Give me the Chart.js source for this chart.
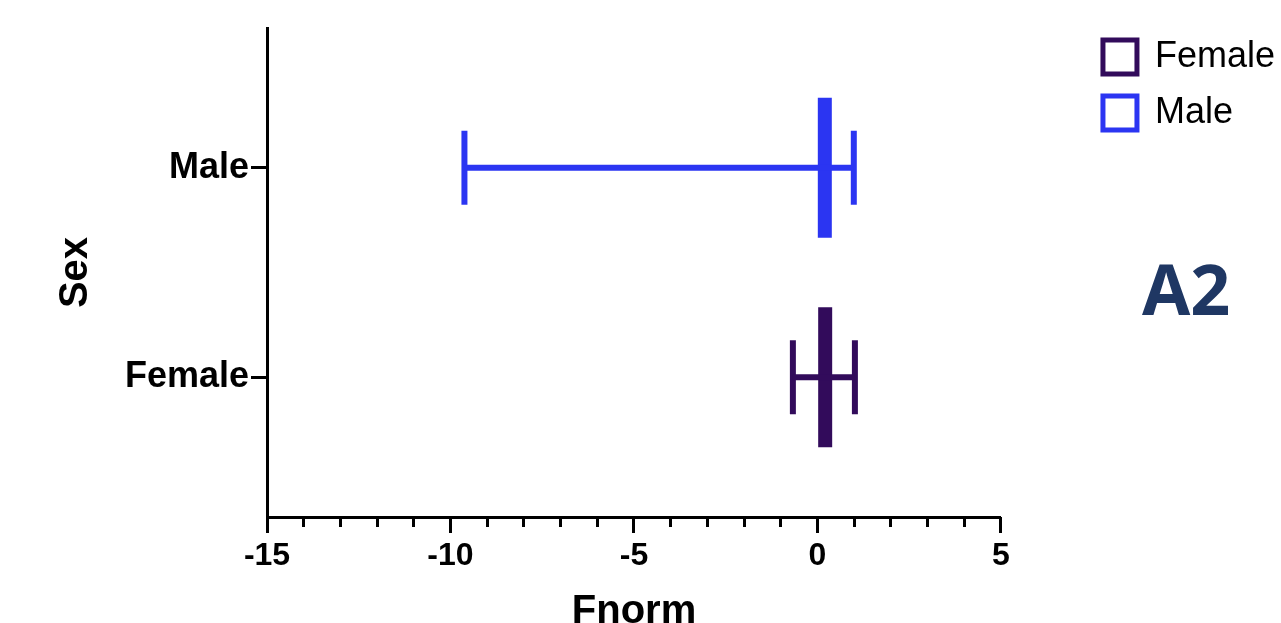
<!DOCTYPE html>
<html>
<head>
<meta charset="utf-8">
<script src="https://cdn.jsdelivr.net/npm/chart.js@4.4.1/dist/chart.umd.min.js"></script>
<style>
    html, body { margin: 0; padding: 0; background: #ffffff; overflow: hidden; }
    #wrap { position: relative; width: 1281px; height: 623px; overflow: hidden; }
    #panel_tag {
        position: absolute; left: 1142px; top: 253px;
        font-family: 'Open Sans', sans-serif; font-weight: 700; font-size: 70px;
        line-height: 70px; color: #1f3763;
    }
</style>
</head>
<body>
<div id="wrap">
    <canvas id="range_chart_canvas" width="1285" height="640"></canvas>
    <div id="panel_tag">A2</div>
</div>
<script>
/*--------------------------------------------------------------------------------
----- DATA
--------------------------------------------------------------------------------*/
const categories = ['Female', 'Male'];
const lowValues = [-0.67, -9.62];
const highValues = [1.02, 0.99];
const meanValues = [0.21, 0.2];
const majorTicks = [-15, -10, -5, 0, 5];
const minorTicks = [-15, -14, -13, -12, -11, -10, -9, -8, -7, -6, -5, -4, -3, -2, -1, 0, 1, 2, 3, 4, 5];
const seriesColors = ['#320b5b', '#2b35f2'];

const boldFont = "'Liberation Sans', Arial, sans-serif";

/*--------------------------------------------------------------------------------
----- DATASETS (whisker line, end caps and mean bar for every category)
--------------------------------------------------------------------------------*/
let datasets = [];
categories.forEach(function (name, i) {
    let color = seriesColors[i];
    // Horizontal whisker from min to max
    datasets.push({
        label: name + ' range',
        data: [{x: lowValues[i], y: i}, {x: highValues[i], y: i}],
        showLine: true,
        borderColor: color,
        borderWidth: 6,
        pointRadius: 0
    });
    // Vertical caps at both ends
    datasets.push({
        label: name + ' caps',
        data: [{x: lowValues[i], y: i}, {x: highValues[i], y: i}],
        showLine: false,
        pointStyle: 'line',
        pointRotation: 90,
        pointRadius: 37,
        pointBorderWidth: 6,
        pointBorderColor: color,
        borderColor: color
    });
    // Thick mean bar
    datasets.push({
        label: name,
        data: [{x: meanValues[i], y: i}],
        showLine: false,
        pointStyle: 'line',
        pointRotation: 90,
        pointRadius: 70,
        pointBorderWidth: 14,
        pointBorderColor: color,
        borderColor: color
    });
});

let context = document.getElementById('range_chart_canvas').getContext('2d');

let range_chart = new Chart(context, {
    type: 'scatter',
    data: { datasets: datasets },
    options: {
        responsive: false,
        animation: false,
        events: [],
        layout: {
            autoPadding: false,
            padding: { top: 19, left: 0, right: 0, bottom: 0 }
        },
        plugins: {
            tooltip: { enabled: false },
            legend: {
                position: 'right',
                align: 'start',
                labels: {
                    font: { family: boldFont, size: 36 },
                    color: '#111111',
                    boxWidth: 34,
                    boxHeight: 34,
                    padding: 20,
                    generateLabels: function () {
                        return categories.map(function (name, i) {
                            return {
                                text: name,
                                fillStyle: '#ffffff',
                                strokeStyle: seriesColors[i],
                                lineWidth: 5,
                                hidden: false,
                                datasetIndex: i * 3 + 2
                            };
                        });
                    }
                }
            }
        },
        scales: {
            x: {
                type: 'linear',
                position: 'bottom',
                min: -15,
                max: 5,
                afterBuildTicks: function (scale) {
                    scale.ticks = majorTicks.map(function (v) { return {value: v}; });
                },
                afterFit: function (scale) { scale.height = 123; },
                border: { color: '#000000', width: 3 },
                grid: { drawOnChartArea: false, tickLength: 16, tickWidth: 3, tickColor: '#000000' },
                ticks: {
                    color: '#000000',
                    padding: 4,
                    font: { family: boldFont, size: 32, weight: 'bold' }
                },
                title: {
                    display: true,
                    text: 'Fnorm',
                    color: '#000000',
                    padding: { bottom: 4 },
                    font: { family: boldFont, size: 40, weight: 'bold' }
                }
            },
            // minor ticks only, stacked right under the main x axis
            xMinor: {
                type: 'linear',
                position: 'bottom',
                weight: -10,
                min: -15,
                max: 5,
                afterBuildTicks: function (scale) {
                    scale.ticks = minorTicks.map(function (v) { return {value: v}; });
                },
                afterFit: function (scale) { scale.height = 0; },
                border: { display: false },
                grid: { drawOnChartArea: false, tickLength: 10, tickWidth: 3, tickColor: '#000000' },
                ticks: { display: false }
            },
            xTopSpace: {
                type: 'linear',
                position: 'top',
                afterFit: function (scale) { scale.height = 9; },
                border: { display: false },
                grid: { display: false },
                ticks: { display: false }
            },
            y: {
                type: 'linear',
                position: 'left',
                min: -0.667,
                max: 1.667,
                afterBuildTicks: function (scale) {
                    scale.ticks = categories.map(function (c, i) { return {value: i}; });
                },
                afterFit: function (scale) { scale.width = 267; },
                border: { color: '#000000', width: 3 },
                grid: { drawOnChartArea: false, tickLength: 16, tickWidth: 3, tickColor: '#000000' },
                ticks: {
                    color: '#000000',
                    padding: 2,
                    font: { family: boldFont, size: 36, weight: 'bold', lineHeight: 1 },
                    callback: function (value) { return categories[value]; }
                },
                title: {
                    display: true,
                    text: 'Sex',
                    color: '#000000',
                    padding: { top: 52 },
                    font: { family: boldFont, size: 40, weight: 'bold' }
                }
            },
            // empty space between the plot and the legend
            yLegendGap: {
                type: 'linear',
                position: 'right',
                afterFit: function (scale) { scale.width = 82; },
                border: { display: false },
                grid: { display: false },
                ticks: { display: false }
            }
        }
    }
});
</script>
</body>
</html>
